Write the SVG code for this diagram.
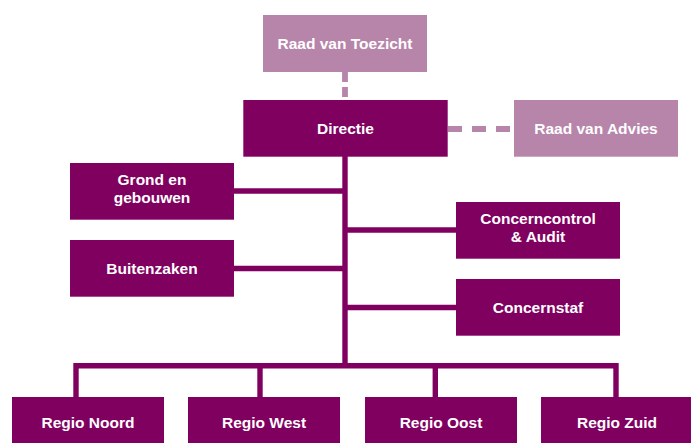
<svg xmlns="http://www.w3.org/2000/svg" width="691" height="443" viewBox="0 0 691 443">
<style>
.dk{fill:#800060}
.lt{fill:#b784aa}
.t{font-family:"Liberation Sans",Arial,sans-serif;font-weight:bold;font-size:15.5px;fill:#ffffff;text-anchor:middle}
.ln{stroke:#800060;stroke-width:5.4;fill:none}
.ds{stroke:#b784aa;stroke-width:5.8;fill:none}
</style>
<rect width="691" height="443" fill="#ffffff"/>
<g id="connectors">
<line class="ds" x1="345" y1="72" x2="345" y2="100" stroke-dasharray="10,5"/>
<line class="ds" x1="448" y1="129" x2="514" y2="129" stroke-dasharray="14,10"/>
<line class="ln" x1="345" y1="156" x2="345" y2="366"/>
<line class="ln" x1="234" y1="191" x2="345" y2="191"/>
<line class="ln" x1="234" y1="268.5" x2="345" y2="268.5"/>
<line class="ln" x1="345" y1="230" x2="456" y2="230"/>
<line class="ln" x1="345" y1="307.5" x2="456" y2="307.5"/>
<polyline class="ln" points="76,397 76,365.7 616,365.7 616,397"/>
<line class="ln" x1="260" y1="365.7" x2="260" y2="397"/>
<line class="ln" x1="435.3" y1="365.7" x2="435.3" y2="397"/>
</g>
<g id="raad-van-toezicht"><rect class="lt" x="263" y="15" width="164" height="57"/><text class="t" x="345" y="48.5">Raad van Toezicht</text></g>
<g id="directie"><rect class="dk" x="243.3" y="100" width="204.4" height="56.7"/><text class="t" x="345.5" y="133.5">Directie</text></g>
<g id="raad-van-advies"><rect class="lt" x="514" y="100" width="164" height="56.7"/><text class="t" x="596" y="133.5">Raad van Advies</text></g>
<g id="grond-en-gebouwen"><rect class="dk" x="70" y="163" width="164" height="56.7"/><text class="t" x="152" y="185">Grond en</text><text class="t" x="152" y="203">gebouwen</text></g>
<g id="buitenzaken"><rect class="dk" x="70" y="240" width="164" height="56.7"/><text class="t" x="152" y="273.5">Buitenzaken</text></g>
<g id="concerncontrol"><rect class="dk" x="456" y="202" width="164" height="56.7"/><text class="t" x="538" y="224">Concerncontrol</text><text class="t" x="538" y="242.3">&amp; Audit</text></g>
<g id="concernstaf"><rect class="dk" x="456" y="279" width="164" height="56.7"/><text class="t" x="538" y="312.5">Concernstaf</text></g>
<g id="regio-noord"><rect class="dk" x="12" y="397" width="152" height="46"/><text class="t" x="88" y="428">Regio Noord</text></g>
<g id="regio-west"><rect class="dk" x="188" y="397" width="152" height="46"/><text class="t" x="264" y="428">Regio West</text></g>
<g id="regio-oost"><rect class="dk" x="365" y="397" width="152" height="46"/><text class="t" x="441" y="428">Regio Oost</text></g>
<g id="regio-zuid"><rect class="dk" x="541" y="397" width="152" height="46"/><text class="t" x="617" y="428">Regio Zuid</text></g>
</svg>
